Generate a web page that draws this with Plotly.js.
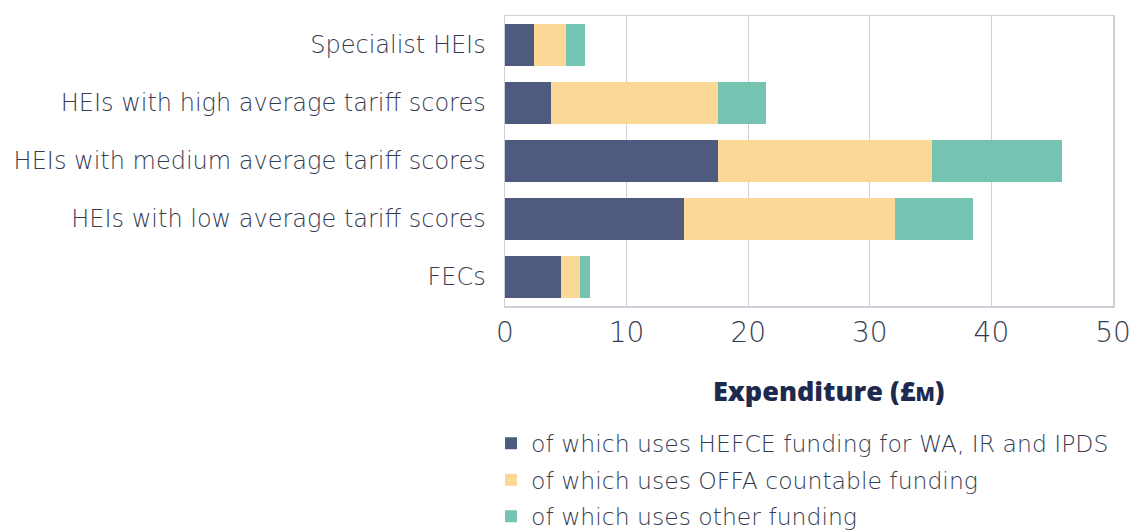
<!DOCTYPE html>
<html><head><meta charset="utf-8">
<script src="https://cdn.plot.ly/plotly-3.0.1.min.js"></script>
<style>body{margin:0;background:#fff}#c{width:1144px;height:530px}</style>
</head><body><div id="c"></div>
<script>
const categories = ["Specialist HEIs","HEIs with high average tariff scores","HEIs with medium average tariff scores","HEIs with low average tariff scores","FECs"];
const hefce = [2.4, 3.8, 17.5, 14.7, 4.6];
const offa = [2.6, 13.7, 17.6, 17.4, 1.6];
const other = [1.6, 4.0, 10.7, 6.4, 0.8];
const seriesNames = ["of which uses HEFCE funding for WA, IR and IPDS","of which uses OFFA countable funding","of which uses other funding"];
const colors = ["#4e5a7e","#fbd896","#74c4b1"];
const tickVals = [0,10,20,30,40,50];
const xTitle = "Expenditure (£<span style='font-size:20px'>M</span>)";

const font = "'DejaVu Sans', sans-serif";
const txt = "#353c52";
const data = [hefce, offa, other].map((v,i)=>({
  type:"bar", orientation:"h", y:categories, x:v, name:seriesNames[i],
  marker:{color:colors[i], line:{width:0}}, legendgroup:"g"+i, hoverinfo:"x+name"
}));
const layout = {
  width:1144, height:530, barmode:"stack", bargap:0.29,
  margin:{l:505, r:31, t:16, b:224, autoexpand:false},
  paper_bgcolor:"#fff", plot_bgcolor:"#fff",
  font:{family:font, color:txt, weight:300},
  showlegend:true,
  legend:{x:-0.023, xanchor:"left", y:-0.398, yanchor:"top", traceorder:"grouped", tracegroupgap:3,
    font:{size:23.5, color:txt, family:font, weight:300}, bgcolor:"rgba(0,0,0,0)"},
  annotations:[{text:xTitle, xref:"paper", yref:"paper", x:0.533, y:-0.29, xanchor:"center", yanchor:"middle",
    showarrow:false, font:{size:27, color:"#1d2a4d", family:"'Open Sans', sans-serif", weight:800}}],
  xaxis:{range:[0,50], tickvals:tickVals, ticktext:tickVals.map(String),
    showgrid:true, gridcolor:"#cfd0da", gridwidth:1.2, zeroline:false,
    showline:true, linecolor:"#cfd0da", linewidth:1.5, mirror:true,
    ticks:"outside", ticklen:1, tickcolor:"rgba(0,0,0,0)",
    tickfont:{size:28, color:txt, family:font, weight:300}},
  yaxis:{autorange:"reversed", type:"category", showgrid:false, zeroline:false,
    showline:true, linecolor:"#cfd0da", linewidth:1.5, mirror:true,
    ticks:"outside", ticklen:13, tickcolor:"rgba(0,0,0,0)",
    tickfont:{size:24, color:txt, family:font, weight:300}}
};
Plotly.newPlot("c", data, layout, {displayModeBar:false, staticPlot:true});
</script></body></html>
